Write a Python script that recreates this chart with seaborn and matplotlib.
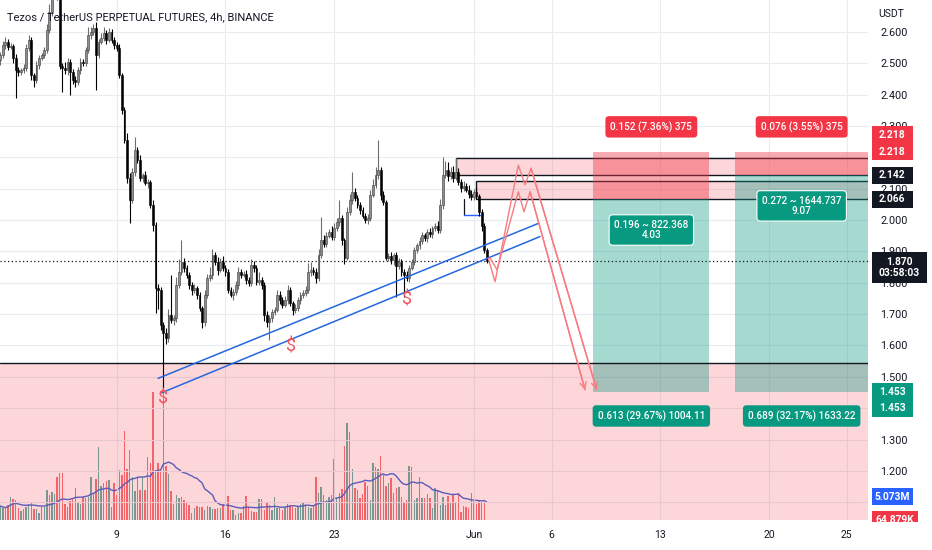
import numpy as np
import pandas as pd
import seaborn as sns
import matplotlib.pyplot as plt
import matplotlib.dates as mdates
from matplotlib import transforms as mtrans
from matplotlib.patches import Rectangle

sns.set_theme(style="white")
plt.rcParams['font.family'] = ['Roboto', 'DejaVu Sans']

TEXT = '#131722'
RED = '#f23645'
TEAL = '#089981'

# 4h candles, XTZ/USDT perp, 2022-05-01 12:00 .. 2022-06-01 20:00
close = [2.526, 2.558, 2.568, 2.552, 2.555, 2.517, 2.478, 2.472, 2.478, 2.485,
         2.548, 2.574, 2.462, 2.446, 2.494, 2.517, 2.526, 2.542, 2.606, 2.663,
         2.717, 2.733, 2.717, 2.491, 2.485, 2.478, 2.504, 2.472, 2.446, 2.440,
         2.478, 2.504, 2.500, 2.542, 2.590, 2.599, 2.612, 2.526, 2.568, 2.580,
         2.596, 2.574, 2.599, 2.574, 2.558, 2.548, 2.462, 2.351, 2.255, 2.134,
         2.064, 2.153, 2.223, 2.191, 2.134, 2.143, 2.118, 2.121, 2.048, 1.984,
         1.783, 1.777, 1.665, 1.640, 1.624, 1.697, 1.681, 1.687, 1.793, 1.834,
         1.866, 1.847, 1.825, 1.793, 1.777, 1.783, 1.761, 1.719, 1.675, 1.761,
         1.815, 1.825, 1.888, 1.866, 1.841, 1.866, 1.847, 1.834, 1.777, 1.761,
         1.771, 1.793, 1.834, 1.825, 1.828, 1.809, 1.799, 1.856, 1.847, 1.802,
         1.809, 1.793, 1.697, 1.675, 1.687, 1.707, 1.713, 1.761, 1.745, 1.729,
         1.745, 1.777, 1.735, 1.713, 1.719, 1.745, 1.761, 1.767, 1.777, 1.834,
         1.841, 1.834, 1.815, 1.888, 1.936, 1.925, 1.949, 1.962, 1.945, 1.974,
         1.994, 2.006, 1.936, 1.879, 2.025, 2.064, 2.089, 2.070, 2.048, 2.032,
         2.013, 2.000, 2.006, 2.080, 2.112, 2.143, 2.159, 2.080, 2.057, 1.879,
         1.885, 1.872, 1.888, 1.853, 1.866, 1.834, 1.825, 1.815, 1.847, 1.866,
         1.904, 1.920, 1.933, 1.952, 1.941, 1.962, 1.955, 1.974, 1.981, 1.968,
         2.048, 2.143, 2.159, 2.140, 2.153, 2.134, 2.153, 2.121, 2.102, 2.108,
         2.096, 2.083, 2.073, 2.089, 2.076, 2.025, 1.981, 1.904, 1.870]
first_open = 2.510

# wick length above / below the body, in thousandths of USDT
hi_ext = [10, 12, 15, 8, 10, 6, 12, 10, 8, 14,
          12, 15, 10, 8, 12, 10, 8, 10, 20, 25,
          30, 30, 20, 15, 10, 18, 12, 10, 8, 12,
          10, 12, 8, 10, 25, 15, 12, 20, 10, 15,
          18, 10, 12, 10, 8, 10, 12, 8, 10, 22,
          15, 12, 42, 10, 15, 8, 12, 10, 8, 15,
          10, 12, 8, 10, 15, 20, 128, 10, 25, 40,
          70, 12, 10, 8, 10, 12, 8, 10, 8, 15,
          12, 25, 20, 10, 15, 12, 18, 8, 10, 8,
          10, 12, 15, 10, 8, 12, 10, 20, 12, 8,
          25, 10, 8, 12, 10, 8, 10, 15, 12, 10,
          12, 15, 10, 8, 12, 10, 8, 10, 12, 30,
          25, 10, 12, 20, 75, 15, 12, 10, 20, 15,
          12, 58, 10, 8, 15, 20, 65, 12, 10, 8,
          10, 8, 12, 15, 20, 25, 96, 10, 12, 8,
          10, 12, 8, 10, 12, 8, 10, 12, 10, 8,
          10, 8, 12, 10, 8, 10, 12, 8, 10, 15,
          20, 58, 30, 25, 15, 20, 45, 12, 10, 15,
          10, 15, 12, 10, 15, 8, 10, 8, 6]
lo_ext = [15, 10, 12, 10, 8, 15, 89, 12, 10, 8,
          10, 8, 15, 22, 10, 12, 8, 10, 8, 10,
          12, 10, 15, 10, 77, 12, 15, 73, 12, 15,
          10, 12, 8, 10, 8, 12, 10, 112, 10, 8,
          10, 12, 8, 10, 12, 8, 10, 12, 10, 15,
          74, 10, 12, 8, 10, 12, 8, 15, 10, 20,
          80, 60, 15, 187, 20, 12, 10, 15, 12, 10,
          8, 12, 10, 12, 15, 10, 12, 10, 20, 12,
          10, 8, 12, 10, 15, 8, 10, 12, 10, 8,
          15, 10, 12, 10, 8, 12, 10, 8, 12, 10,
          8, 12, 20, 15, 58, 12, 10, 8, 12, 10,
          8, 12, 10, 15, 10, 8, 12, 10, 8, 10,
          12, 10, 15, 10, 8, 10, 12, 8, 10, 8,
          10, 12, 15, 20, 8, 10, 12, 8, 10, 12,
          8, 10, 12, 10, 8, 10, 12, 15, 10, 8,
          10, 12, 15, 98, 10, 12, 71, 10, 12, 8,
          10, 8, 12, 10, 8, 10, 8, 12, 10, 8,
          10, 12, 10, 15, 10, 12, 8, 10, 12, 10,
          8, 12, 10, 8, 10, 12, 15, 10, 8]

# volume, millions
volume_m = [3.1, 2.6, 2.6, 3.3, 5.1, 4.6, 4.4, 2.6, 2.0, 2.4,
            2.9, 3.5, 4.0, 2.4, 2.4, 1.5, 2.9, 2.9, 6.6, 5.5,
            6.2, 5.7, 9.5, 10.3, 10.3, 3.5, 2.9, 4.2, 4.8, 7.0,
            4.0, 3.5, 5.1, 4.8, 5.1, 9.5, 5.9, 9.0, 16.1, 7.5,
            8.1, 8.6, 8.8, 2.9, 8.1, 5.5, 11.0, 9.9, 19.6, 11.2,
            15.4, 9.5, 6.4, 9.5, 6.6, 9.5, 6.6, 13.9, 12.5, 28.2,
            11.0, 12.5, 11.2, 28.2, 11.9, 10.1, 6.4, 3.5, 5.5, 4.8,
            5.1, 4.4, 3.7, 3.3, 1.5, 2.6, 3.1, 2.9, 2.9, 2.2,
            3.1, 2.9, 2.4, 2.4, 2.6, 2.6, 3.5, 3.7, 5.3, 2.2,
            2.2, 1.1, 1.5, 1.5, 3.1, 5.3, 2.9, 2.0, 1.8, 1.8,
            4.6, 4.6, 2.2, 3.7, 3.3, 2.2, 5.1, 2.6, 2.6, 2.2,
            2.9, 3.5, 3.3, 2.9, 2.6, 3.1, 3.5, 4.0, 3.5, 2.9,
            2.6, 3.3, 9.5, 5.9, 7.3, 5.5, 4.4, 5.1, 5.5, 13.4,
            4.8, 5.9, 6.8, 16.3, 21.3, 19.4, 11.2, 7.0, 6.6, 4.8,
            5.7, 8.4, 7.5, 4.4, 12.5, 11.7, 11.2, 14.1, 9.9, 7.5,
            8.1, 9.2, 5.9, 7.0, 7.3, 5.1, 3.7, 4.4, 11.9, 11.7,
            4.4, 4.8, 9.5, 4.8, 4.8, 5.7, 4.8, 2.6, 7.0, 6.4,
            3.3, 5.1, 3.3, 5.3, 3.7, 5.5, 3.7, 5.9, 1.8, 3.1,
            2.9, 2.6, 5.9, 4.2, 3.5, 4.2, 4.0, 4.0, 0.065]

date_ticks = ['2022-05-09', '2022-05-16', '2022-05-23', '2022-06-01',
              '2022-06-06', '2022-06-13', '2022-06-20', '2022-06-25']
date_labels = ['9', '16', '23', 'Jun', '6', '13', '20', '25']
price_ticks = [1.1, 1.2, 1.3, 1.4, 1.5, 1.6, 1.7, 1.8, 1.9, 2.0,
               2.1, 2.2, 2.3, 2.4, 2.5, 2.6]
# these sit fully under the price tags on the scale
hidden_ticks = [1.1, 1.4, 2.2]

# trade plan levels
stop_price = 2.218
entry_1, entry_2 = 2.066, 2.142
target = 1.453
support = 1.545
last_price = 1.870


def d(s):
    return mdates.date2num(pd.Timestamp(s))


times = pd.date_range('2022-05-01 12:00', periods=len(close), freq='4h')
df = pd.DataFrame({'t': mdates.date2num(times), 'close': close, 'vol': volume_m})
df['open'] = df['close'].shift(1).fillna(first_open)
df['high'] = df[['open', 'close']].max(axis=1) + np.array(hi_ext) / 1000
df['low'] = df[['open', 'close']].min(axis=1) - np.array(lo_ext) / 1000
df['up'] = df['close'] >= df['open']
df['vma'] = df['vol'].rolling(20, min_periods=1).mean()

fig = plt.figure(figsize=(9.32, 5.5), dpi=100)
ax = fig.add_axes([0, 30 / 550, 868 / 932, 520 / 550])
vax = ax.twinx()
ax.set_zorder(vax.get_zorder() + 1)
ax.patch.set_visible(False)

ytop, ybot = 2.7015, 1.0433
ppu = 520 / (ytop - ybot)  # pixels per USDT
x0 = d('2022-05-09') - 116.7 / 15.53
x1 = x0 + 868 / 15.53

# volume pane
vcol = np.where(df['up'], '#5caea4', '#f66f72')
vax.bar(df['t'], df['vol'], width=0.09, color=vcol, linewidth=0)
sns.lineplot(x=df['t'], y=df['vma'], ax=vax, color='#3566d6', lw=1)
vax.set_ylim(0, 0.22 * 520)
vax.set_yticks([])
vax.set_ylabel('')
vax.grid(False)

# background zones
pink = (242 / 255, 54 / 255, 69 / 255, 0.2)
ax.axhspan(ybot - 1, support, color=pink, lw=0, zorder=1)
ax.axhline(support, color=TEXT, lw=1, zorder=2)
ax.add_patch(Rectangle((d('2022-05-30 21:00'), 2.143), 40, 0.054, fc=pink,
                       ec=TEXT, lw=1, zorder=1.2))
ax.add_patch(Rectangle((d('2022-06-01 04:00'), entry_1), 40, 0.059, fc=pink,
                       ec=TEXT, lw=1, zorder=1.2))
ax.plot([d('2022-05-31 08:40')] * 2, [2.016, entry_1], color=TEXT, lw=0.9, zorder=2)
ax.plot([d('2022-05-31 08:40'), d('2022-06-01 09:20')], [2.016, 2.016],
        color='#2962ff', lw=1, zorder=2)

# long/short position tools
stop_c = (242 / 255, 54 / 255, 69 / 255, 0.42)
tgt_c = (8 / 255, 153 / 255, 129 / 255, 0.36)
b1 = (d('2022-06-08 16:30'), d('2022-06-16 04:00'))
b2 = (d('2022-06-17 20:00'), d('2022-06-28'))
for (a, b), e in [(b1, entry_1), (b2, entry_2)]:
    ax.add_patch(Rectangle((a, e), b - a, stop_price - e, fc=stop_c, lw=0, zorder=1.5))
    ax.add_patch(Rectangle((a, target), b - a, e - target, fc=tgt_c, lw=0, zorder=1.5))

lab = dict(ha='center', va='center', color='white', fontsize=7.2, zorder=7,
           fontweight='medium')
box = 'round,pad=0.5,rounding_size=0.35'
c1 = (b1[0] + b1[1]) / 2
c2 = (b2[0] + x1) / 2
ax.text(c1, 2.297, '0.152 (7.36%) 375', **lab, bbox=dict(boxstyle=box, fc=RED, ec='none'))
ax.text(c2, 2.297, '0.076 (3.55%) 375', **lab, bbox=dict(boxstyle=box, fc=RED, ec='none'))
ax.text(c1, 1.968, '0.196 ~ 822.368\n4.03', **lab, linespacing=1.05,
        bbox=dict(boxstyle=box, fc=TEAL, ec='white', lw=0.8))
ax.text(c2, 2.045, '0.272 ~ 1644.737\n9.07', **lab, linespacing=1.05,
        bbox=dict(boxstyle=box, fc=TEAL, ec='white', lw=0.8))
ax.text(c1, 1.375, '0.613 (29.67%) 1004.11', **lab, bbox=dict(boxstyle=box, fc=TEAL, ec='none'))
ax.text(c2, 1.375, '0.689 (32.17%) 1633.22', **lab, bbox=dict(boxstyle=box, fc=TEAL, ec='none'))

# candles
cw = 0.7 / 6
wick_c = np.where(df['up'], '#6e6e6e', '#000000')
ax.vlines(df['t'], df['low'], df['high'], colors=wick_c, lw=0.8, zorder=3)
body_h = (df['close'] - df['open']).abs().clip(lower=0.002)
body_b = df[['open', 'close']].min(axis=1)
ax.bar(df['t'], body_h, bottom=body_b, width=cw,
       color=np.where(df['up'], '#8e8e8e', '#000000'),
       edgecolor=np.where(df['up'], '#3a3a3a', '#000000'), lw=0.4, zorder=3.2)

ax.axhline(last_price, color=TEXT, lw=0.9, ls=(0, (1, 2)), zorder=2.5)

# channel
blue = '#2567e0'
ax.plot([d('2022-05-11 16:00'), d('2022-06-05 03:30')], [1.495, 1.989], color=blue, lw=1.1, zorder=4)
ax.plot([d('2022-05-11 21:30'), d('2022-06-05 06:00')], [1.449, 1.947], color=blue, lw=1.1, zorder=4)

# projected path
zz = '#f77c80'
outer = [('2022-06-01 22:15', 1.878), ('2022-06-02 08:40', 1.803), ('2022-06-03 20:40', 2.175),
         ('2022-06-04 07:00', 2.112), ('2022-06-04 16:20', 2.165), ('2022-06-08 21:50', 1.458)]
inner = [('2022-06-02 01:00', 1.879), ('2022-06-02 11:45', 1.841), ('2022-06-03 20:40', 2.090),
         ('2022-06-04 05:30', 2.026), ('2022-06-04 14:50', 2.090), ('2022-06-08 03:50', 1.458)]
for path in (outer, inner):
    xs = [d(s) for s, _ in path]
    ys = [p for _, p in path]
    ax.plot(xs, ys, color=zz, lw=1, zorder=4)
    ax.annotate('', xy=(xs[-1], ys[-1]), xytext=(xs[-2], ys[-2]),
                arrowprops=dict(arrowstyle='->', color=zz, lw=1, shrinkA=0, shrinkB=0,
                                mutation_scale=11), zorder=4)

for s, p in [('2022-05-11 23:45', 1.432), ('2022-05-20 05:30', 1.595), ('2022-05-27 16:50', 1.745)]:
    ax.text(d(s), p, '$', color='#f2545e', fontsize=13, ha='center', va='center', zorder=5)

# axes cosmetics
ax.set_xlim(x0, x1)
ax.set_ylim(ybot, ytop)
ax.set_xticks([d(s) for s in date_ticks])
ax.set_xticklabels(date_labels)
ax.set_yticks(price_ticks)
ax.set_yticklabels(['' if t in hidden_ticks else f'{t:.3f}' for t in price_ticks])
ax.yaxis.tick_right()
ax.grid(True, color='#e9ecf1', lw=0.8)
ax.tick_params(axis='both', length=0, colors=TEXT)
ax.tick_params(axis='y', labelsize=7.8, pad=9)
ax.tick_params(axis='x', labelsize=7.5, pad=7)
for a in (ax, vax):
    for sp in a.spines.values():
        sp.set_visible(False)

# price scale tags
px_trans = mtrans.blended_transform_factory(fig.transFigure, ax.transData)
vol_trans = mtrans.blended_transform_factory(fig.transFigure, vax.transData)


def tag(y, text, fc, dy=0, w=41, h=17, trans=px_trans, scale=ppu):
    yc = y + dy / scale
    ax.add_patch(Rectangle((871.5 / 932, yc - h / 2 / scale), w / 932, h / scale,
                           transform=trans, fc=fc, ec='none', clip_on=False, zorder=6))
    ax.text((871.5 + w / 2) / 932, yc, text, transform=trans, ha='center', va='center',
            color='white', fontsize=7.4, fontweight='bold', zorder=7, clip_on=False,
            linespacing=1.1)


tag(stop_price, '2.218', RED, dy=17)
tag(stop_price, '2.218', RED)
tag(entry_2, '2.142', TEXT)
tag(entry_1, '2.066', TEXT)
tag(last_price, '1.870\n03:58:03', TEXT, dy=-6.7, w=55, h=31.6)
tag(target, '1.453', TEAL)
tag(target, '1.453', TEAL, dy=-16.5)
tag(5.073, '5.073M', '#2962ff', trans=vol_trans, scale=1 / 0.22)
tag(0.065, '64.879K', RED, w=46, trans=vol_trans, scale=1 / 0.22)
ax.add_patch(Rectangle((868 / 932, 0), 64 / 932, 28 / 550, transform=fig.transFigure,
                       fc='white', ec='none', clip_on=False, zorder=8))

fig.text(7 / 932, 1 - 17 / 550, 'Tezos / TetherUS PERPETUAL FUTURES, 4h, BINANCE',
         fontsize=8, color=TEXT, va='center', ha='left')
fig.text(878 / 932, 1 - 14 / 550, 'USDT', fontsize=7.5, color=TEXT, va='center', ha='left')

fig.savefig('out.png', dpi=100, facecolor='white')
